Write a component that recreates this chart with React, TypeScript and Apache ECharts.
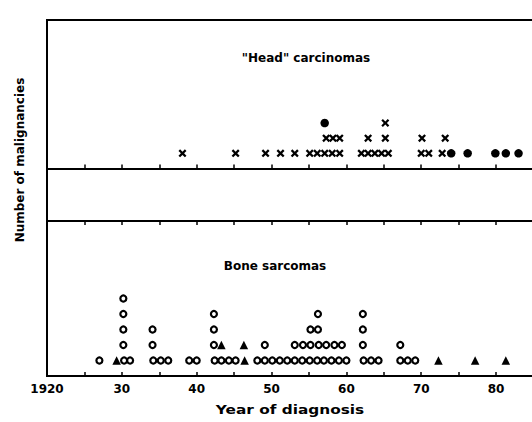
import React, { useEffect, useRef } from "react";
import * as echarts from "echarts";

// x-axis (year of diagnosis)
const xMin = 1920;
const xMax = 1986;
const tickStep = 5;

// "Head" carcinomas: stacked markers, row = count level
const headCrossRow1 = [1938.1, 1945.2, 1949.2, 1951.2, 1953.1, 1955.1, 1956.1, 1957.1, 1958.1, 1959.1, 1962.0, 1962.9, 1963.8, 1964.7, 1965.6, 1970.0, 1971.0, 1972.8];
const headCrossRow2 = [1957.3, 1958.2, 1959.1, 1962.9, 1965.2, 1970.1, 1973.2];
const headCrossRow3 = [1965.2];
const headDotRow1 = [1974.0, 1976.2, 1979.9, 1981.3, 1983.0];
const headDotRow3 = [1957.1];

// Bone sarcomas
const boneCircleRow1 = [1927.0, 1930.3, 1931.1, 1934.2, 1935.2, 1936.2, 1939.0, 1940.0, 1942.4, 1943.3, 1944.3, 1945.2, 1948.1, 1949.1, 1950.1, 1951.1, 1952.1, 1953.1, 1954.1, 1955.1, 1956.1, 1957.0, 1958.0, 1959.0, 1960.0, 1962.3, 1963.3, 1964.3, 1967.2, 1968.2, 1969.2];
const boneCircleRow2 = [1930.2, 1934.1, 1942.3, 1949.1, 1953.1, 1954.2, 1955.2, 1956.3, 1957.3, 1958.4, 1959.4, 1962.2, 1967.2];
const boneCircleRow3 = [1930.2, 1934.1, 1942.3, 1955.2, 1956.2, 1962.2];
const boneCircleRow4 = [1930.2, 1942.3, 1956.2, 1962.2];
const boneCircleRow5 = [1930.2];
const boneTriangleRow1 = [1929.3, 1946.4, 1972.3, 1977.2, 1981.3];
const boneTriangleRow2 = [1943.3, 1946.3];

const rows = (lists: number[][]) =>
  lists.flatMap((years, i) => years.map((y) => [y, i + 1]));

const crossPath =
  "path://M0,2 L2,0 L5,3 L8,0 L10,2 L7,5 L10,8 L8,10 L5,7 L2,10 L0,8 L3,5 Z";

const FONT = "'DejaVu Sans', sans-serif";

export default function App() {
  const ref = useRef<HTMLDivElement>(null);
  useEffect(() => {
    if (!ref.current) return;
    const chart = echarts.init(ref.current, null, { renderer: "svg" });
    const axisLine = { show: true, lineStyle: { color: "#000", width: 2 } };
    const tick = { show: true, inside: true, length: 4, lineStyle: { color: "#000", width: 1.5 } };
    const baseX = { type: "value", min: xMin, max: xMax, interval: tickStep, splitLine: { show: false } };
    const W = 494;
    const g = { left: 47, width: W, outerBoundsMode: "none", containLabel: false };
    chart.setOption({
      animation: false,
      backgroundColor: "#fff",
      grid: [
        { ...g, top: 20, height: 356, show: true, borderColor: "#000", borderWidth: 2, backgroundColor: "transparent" },
        { ...g, top: 20, height: 151.5 },
        { ...g, top: 221, height: 155 },
      ],
      xAxis: [
        { ...baseX, gridIndex: 0, show: false },
        { ...baseX, gridIndex: 1, position: "bottom", axisLine, axisTick: tick, axisLabel: { show: false } },
        {
          ...baseX,
          gridIndex: 2,
          position: "bottom",
          axisLine,
          axisTick: tick,
          axisLabel: {
            show: true,
            color: "#000",
            fontFamily: FONT,
            fontWeight: "bold",
            fontSize: 12,
            margin: 7,
            formatter: (v: number) => (v % 10 !== 0 ? "" : v === 1920 ? "1920" : String(v % 100)),
          },
        },
        { ...baseX, gridIndex: 2, position: "top", axisLine, axisTick: tick, axisLabel: { show: false } },
      ],
      yAxis: [
        { type: "value", gridIndex: 0, show: false, min: 0, max: 1 },
        { type: "value", gridIndex: 1, show: false, min: -0.2, max: 9.8 },
        { type: "value", gridIndex: 2, show: false, min: 0, max: 10 },
      ],
      series: [
        {
          type: "scatter", xAxisIndex: 1, yAxisIndex: 1, symbol: crossPath, symbolSize: 8,
          itemStyle: { color: "#000", opacity: 1 },
          data: rows([headCrossRow1, headCrossRow2, headCrossRow3]),
        },
        {
          type: "scatter", xAxisIndex: 1, yAxisIndex: 1, symbol: "circle", symbolSize: 8.5,
          itemStyle: { color: "#000", opacity: 1 },
          data: rows([headDotRow1, [], headDotRow3]),
        },
        {
          type: "scatter", xAxisIndex: 2, yAxisIndex: 2, symbol: "circle", symbolSize: 6,
          itemStyle: { color: "rgba(0,0,0,0)", borderColor: "#000", borderWidth: 2.2, opacity: 1 },
          data: rows([boneCircleRow1, boneCircleRow2, boneCircleRow3, boneCircleRow4, boneCircleRow5]),
        },
        {
          type: "scatter", xAxisIndex: 2, yAxisIndex: 2, symbol: "triangle", symbolSize: 8.5,
          itemStyle: { color: "#000", opacity: 1 },
          data: rows([boneTriangleRow1, boneTriangleRow2]),
        },
      ],
      graphic: [
        { type: "text", x: 306, y: 58, style: { text: '"Head" carcinomas', align: "center", verticalAlign: "middle", font: `bold 12px ${FONT}`, fill: "#000" } },
        { type: "text", x: 275, y: 266, style: { text: "Bone sarcomas", align: "center", verticalAlign: "middle", font: `bold 12px ${FONT}`, fill: "#000" } },
        { type: "text", x: 290, y: 409, scaleX: 1.18, style: { text: "Year of diagnosis", align: "center", verticalAlign: "middle", font: `bold 13px ${FONT}`, fill: "#000" } },
        { type: "text", x: 20, y: 160, rotation: Math.PI / 2, style: { text: "Number of malignancies", align: "center", verticalAlign: "middle", font: `bold 12px ${FONT}`, fill: "#000" } },
      ],
    });
    return () => chart.dispose();
  }, []);
  return <div ref={ref} style={{ position: "absolute", left: 0, top: 0, width: 532, height: 422 }} />;
}
